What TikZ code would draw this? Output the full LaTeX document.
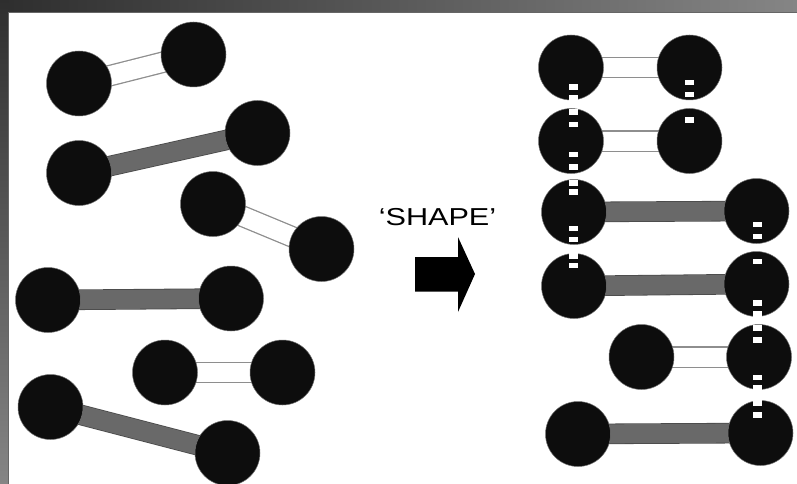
\documentclass[tikz,border=0pt]{standalone}
\usepackage{fontspec}
\setmainfont{Liberation Sans}
\usetikzlibrary{backgrounds}

\begin{document}
\begin{tikzpicture}[x=1pt, y=-1pt,
    ball/.style={circle, fill=ballColour, draw=black!55, line width=0.5pt, minimum size=65pt, inner sep=0pt},
    thinLink/.style={draw=linkColour, line width=1.3pt, double=white, double distance=19pt},
    thickLink/.style={draw=barBorder, line width=0.8pt, double=barColour, double distance=19pt},
    site/.style={rectangle, fill=white, minimum width=9pt, minimum height=5.5pt, inner sep=0pt}]

    % Define colours
    \definecolor{ballColour}{HTML}{0D0D0D}
    \definecolor{linkColour}{HTML}{8E8E8E}
    \definecolor{barColour}{HTML}{696969}
    \definecolor{barBorder}{HTML}{4A4A4A}
    \definecolor{darkTexture}{HTML}{2E2E2E}
    \definecolor{lightTexture}{HTML}{858585}

    \useasboundingbox (0,0) rectangle (797,484);

    % Unordered particles (left)
    \node[ball] (a1) at (79,83.5) {};
    \node[ball] (a2) at (193.5,54.5) {};
    \node[ball] (b1) at (79,173) {};
    \node[ball] (b2) at (257.5,133) {};
    \node[ball] (c1) at (213,204) {};
    \node[ball] (c2) at (321.5,249) {};
    \node[ball] (d1) at (48,300) {};
    \node[ball] (d2) at (231,298.5) {};
    \node[ball] (e1) at (165,372.5) {};
    \node[ball] (e2) at (282.5,372.5) {};
    \node[ball] (f1) at (50.5,407) {};
    \node[ball] (f2) at (227.5,453) {};

    % Stacked particles (right)
    \node[ball] (r1a) at (571,67.5) {};
    \node[ball] (r1b) at (689.5,67.5) {};
    \node[ball] (r2a) at (571,141) {};
    \node[ball] (r2b) at (689.5,141) {};
    \node[ball] (r3a) at (574,212) {};
    \node[ball] (r3b) at (756.5,211) {};
    \node[ball] (r4a) at (574,286) {};
    \node[ball] (r4b) at (756.5,284) {};
    \node[ball] (r5a) at (641.5,357) {};
    \node[ball] (r5b) at (759,357) {};
    \node[ball] (r6a) at (578,434) {};
    \node[ball] (r6b) at (760.5,433) {};

    % Binding sites between stacked particles
    \foreach \y [count=\i] in {87,98,112,124.5,154.5,167,183,192,228.5,239.5,256,265.5}
        \node[site] (siteL\i) at (573,\y) {};
    \foreach \y [count=\i] in {82.5,94.5,120}
        \node[site] (siteM\i) at (689,\y) {};
    \foreach \y [count=\i] in {224.5,236.5,261.5,303,314,328,340,377.5,388,403,415}
        \node[site] (siteR\i) at (757.5,\y) {};

    % Label and arrow
    \node[font=\fontsize{24.5}{29}\selectfont, xscale=1.25, anchor=base] (shapeLabel) at (437.5,225.5) {‘SHAPE’};
    \fill[black] (415,257) -- (458,257) -- (458,237) -- (475,274) -- (458,312)
        -- (458,291.5) -- (415,291.5) -- cycle;

    \begin{pgfonlayer}{background}
        % Draw textured frame and white panel
        \shade[left color=darkTexture, right color=lightTexture] (0,0) rectangle (797,12);
        \shade[top color=darkTexture, bottom color=lightTexture] (0,0) rectangle (8,484);
        \fill[white] (8,12) rectangle (797,484);
        \draw[black!60, line width=0.8pt] (8,484) -- (8,12) -- (797,12);

        % Draw links
        \draw[thinLink] (a1.center) -- (a2.center);
        \draw[thickLink] (b1.center) -- (b2.center);
        \draw[thinLink] (c1.center) -- (c2.center);
        \draw[thickLink] (d1.center) -- (d2.center);
        \draw[thinLink] (e1.center) -- (e2.center);
        \draw[thickLink] (f1.center) -- (f2.center);
        \draw[thinLink] (r1a.center) -- (r1b.center);
        \draw[thinLink] (r2a.center) -- (r2b.center);
        \draw[thickLink] (r3a.center) -- (r3b.center);
        \draw[thickLink] (r4a.center) -- (r4b.center);
        \draw[thinLink] (r5a.center) -- (r5b.center);
        \draw[thickLink] (r6a.center) -- (r6b.center);
    \end{pgfonlayer}

\end{tikzpicture}
\end{document}
